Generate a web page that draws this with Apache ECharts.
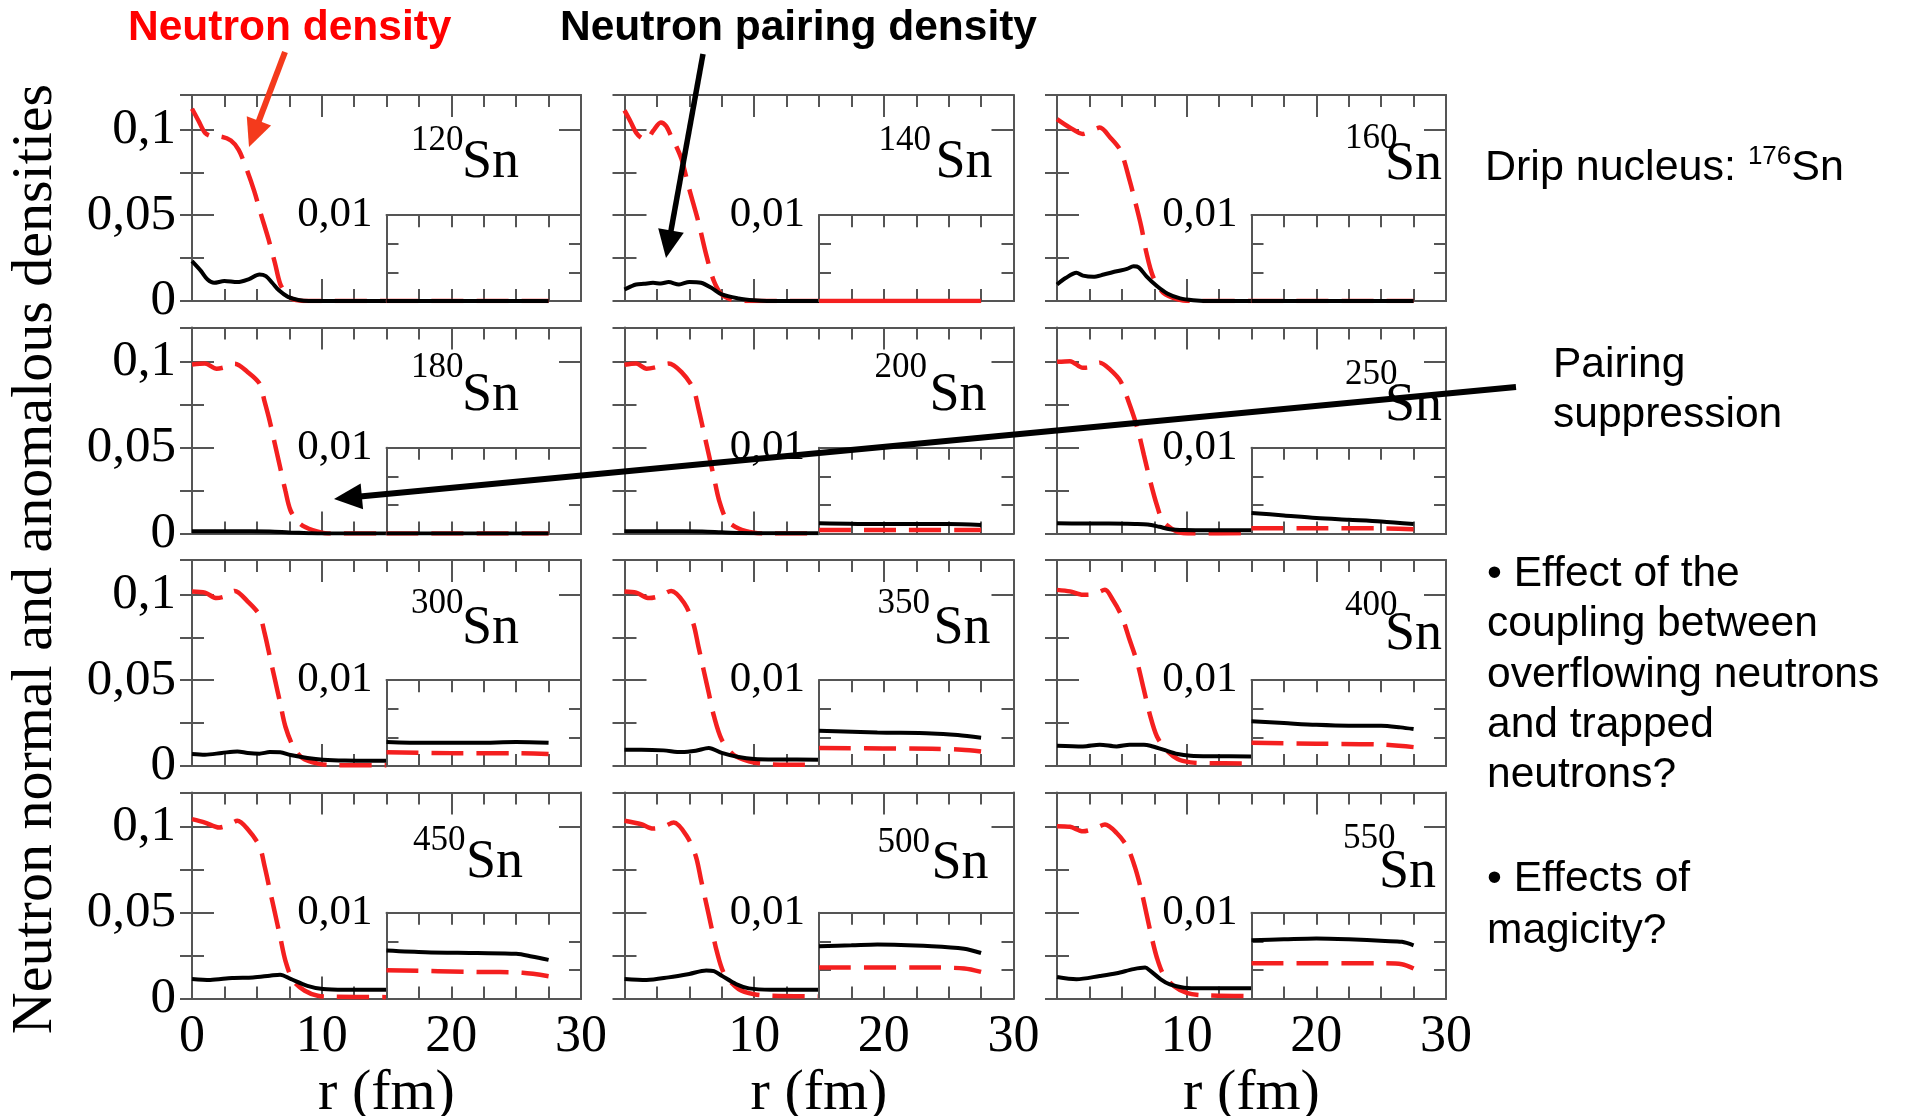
<!DOCTYPE html>
<html><head><meta charset="utf-8">
<script src="https://cdn.jsdelivr.net/npm/echarts@6/dist/echarts.min.js"></script>
<style>html,body{margin:0;padding:0;background:#fff}#c{width:1905px;height:1116px}</style>
</head><body><div id="c"></div>
<script>
// ================= DATA =================
const nuclei = ['120','140','160','180','200','250','300','350','400','450','500','550'];
const xTickValues = [0, 10, 20, 30];
const yTickValues = [0, 0.05, 0.1];
const insetTickLabel = 0.01;

// rho = neutron density (red dashed), kap = neutron pairing density (black)
// main panel: r in [0,15]; inset ("in"): r in [15,27.5], scale 0..0.01
const rho120 = [[0,0.112],[0.5,0.105],[1,0.098],[1.5,0.096],[2.2,0.0958],[3,0.0935],[3.6,0.088],[4.2,0.077],[4.8,0.064],[5.3,0.051],[5.9,0.036],[6.4,0.022],[6.8,0.010],[7.3,0.004],[7.8,0.001],[9,0],[15,0]];
const kap120 = [[0,0.0232],[0.7,0.0174],[1.2,0.0125],[1.7,0.0106],[2.5,0.0116],[3.5,0.011],[4.4,0.0128],[5.2,0.0155],[5.7,0.0145],[6.2,0.0105],[6.7,0.0062],[7.4,0.0024],[8.2,0.0006],[9,0],[15,0]];
const rho120in = [[15,0],[27.5,0]];
const kap120in = [[15,0],[27.5,0]];

const rho140 = [[0,0.111],[0.5,0.104],[0.9,0.098],[1.3,0.095],[1.7,0.094],[2.2,0.099],[2.8,0.104],[3.2,0.102],[3.6,0.096],[4.0,0.090],[4.4,0.0826],[5.0,0.065],[5.7,0.046],[6.3,0.027],[6.9,0.0115],[7.5,0.0038],[8.2,0.001],[9,0],[15,0]];
const kap140 = [[0,0.0067],[0.5,0.0085],[0.9,0.0096],[1.5,0.0100],[2.2,0.0106],[2.8,0.0102],[3.4,0.011],[4.2,0.0096],[5.0,0.0111],[5.9,0.0106],[6.7,0.0077],[7.5,0.0038],[8.8,0.0015],[10,0.0004],[11,0],[15,0]];
const rho140in = [[15,0],[27.5,0]];
const kap140in = [[15,0],[27.5,0]];

const rho160 = [[0,0.106],[1.0,0.101],[2.0,0.0973],[2.6,0.099],[3.3,0.101],[4.1,0.0953],[4.9,0.0876],[5.6,0.0703],[6.0,0.0587],[6.5,0.0433],[6.9,0.0279],[7.4,0.0144],[8.2,0.0048],[9.3,0.001],[10.3,0],[15,0]];
const kap160 = [[0,0.0096],[0.7,0.0135],[1.5,0.0164],[2.0,0.0148],[2.8,0.0141],[3.6,0.0154],[4.6,0.0173],[5.4,0.0187],[5.9,0.0202],[6.3,0.0196],[6.9,0.0144],[7.7,0.0087],[8.5,0.0044],[9.5,0.0015],[10.5,0.0005],[12,0],[15,0]];
const rho160in = [[15,0],[27.5,0]];
const kap160in = [[15,0],[27.5,0]];

const rho180 = [[0,0.0985],[1.0,0.099],[1.9,0.096],[2.6,0.097],[3.3,0.0989],[4.3,0.094],[5.2,0.0874],[5.6,0.0768],[6.0,0.0653],[6.4,0.0518],[6.8,0.0384],[7.2,0.025],[7.6,0.0134],[8.3,0.0058],[9.3,0.0019],[10.5,0],[15,0]];
const kap180 = [[0,0.0013],[3,0.0013],[6,0.0012],[7.5,0.0006],[9,0.0002],[10,0],[15,0]];
const rho180in = [[15,0],[27.5,0]];
const kap180in = [[15,0],[27.5,0]];

const rho200 = [[0,0.0983],[0.9,0.099],[1.7,0.096],[2.5,0.097],[3.4,0.099],[4.4,0.094],[5.3,0.0845],[5.7,0.073],[6.1,0.0595],[6.5,0.046],[6.9,0.0326],[7.3,0.0192],[7.9,0.0077],[8.8,0.0029],[10,0.0004],[11,0],[15,0.0001]];
const kap200 = [[0,0.0013],[3,0.0013],[6,0.0012],[7.5,0.0007],[9,0.0003],[11,0.0002],[15,0.0002]];
const rho200in = [[15,0.0004],[20,0.0004],[27.5,0.0004]];
const kap200in = [[15,0.0012],[20,0.0011],[25,0.0011],[27.5,0.0010]];

const rho250 = [[0,0.100],[1.0,0.1004],[2.0,0.0965],[2.6,0.097],[3.3,0.0995],[4.1,0.0955],[4.9,0.0887],[5.6,0.0751],[6.2,0.0614],[6.7,0.0458],[7.2,0.0302],[7.7,0.0166],[8.2,0.0068],[9.3,0.001],[10.5,0],[15,0.0001]];
const kap250 = [[0,0.0059],[2,0.0058],[4,0.0058],[6,0.0056],[7,0.0053],[7.9,0.0039],[8.7,0.0025],[9.8,0.002],[12,0.0019],[15,0.0019]];
const rho250in = [[15,0.0006],[20,0.0006],[25,0.0006],[27.5,0.0005]];
const kap250in = [[15,0.0024],[17.5,0.0021],[20,0.0018],[22.5,0.0016],[25,0.0014],[27.5,0.0011]];

const rho300 = [[0,0.1017],[1.0,0.101],[1.9,0.0978],[2.6,0.099],[3.3,0.102],[4.3,0.0958],[5.2,0.088],[5.6,0.0774],[6.0,0.0638],[6.4,0.0502],[6.8,0.0367],[7.2,0.023],[7.8,0.0114],[8.5,0.0047],[9.7,0.0014],[11,0.0005],[15,0.0004]];
const kap300 = [[0,0.0070],[1,0.0066],[2.3,0.0076],[3.5,0.0085],[4.3,0.0076],[5.2,0.0072],[6.0,0.0081],[6.8,0.0080],[7.6,0.0064],[8.9,0.0047],[10.1,0.0037],[11.8,0.0032],[15,0.0030]];
const rho300in = [[15,0.0016],[20,0.0015],[25,0.0015],[27.5,0.0014]];
const kap300in = [[15,0.0028],[18,0.0027],[22,0.0027],[25,0.0028],[27.5,0.0027]];

const rho350 = [[0,0.1017],[0.9,0.101],[1.9,0.0978],[2.7,0.099],[3.6,0.102],[4.6,0.095],[5.3,0.0832],[5.7,0.0696],[6.1,0.056],[6.5,0.0425],[6.9,0.029],[7.5,0.0153],[8.4,0.0066],[9.6,0.0027],[10.8,0.0012],[12,0.0008],[15,0.0007]];
const kap350 = [[0,0.0095],[1.3,0.0095],[3.0,0.0091],[4.4,0.0081],[5.5,0.0089],[6.5,0.0105],[7.5,0.0076],[8.8,0.0052],[10,0.0041],[12,0.0038],[15,0.0037]];
const rho350in = [[15,0.0021],[23.7,0.0020],[26,0.0019],[27.5,0.0017]];
const kap350in = [[15,0.0041],[19.5,0.0039],[23.7,0.0038],[25.7,0.0036],[27.5,0.0033]];

const rho400 = [[0,0.1026],[1.0,0.1017],[2.0,0.0997],[2.8,0.100],[3.7,0.1026],[4.3,0.0968],[5.0,0.0871],[5.6,0.0735],[6.2,0.06],[6.7,0.0444],[7.2,0.0289],[7.7,0.0173],[8.4,0.0095],[9.3,0.0041],[10.3,0.0021],[11.3,0.0017],[15,0.0015]];
const kap400 = [[0,0.0118],[2,0.0114],[3.3,0.0124],[4.6,0.0114],[5.6,0.0124],[6.7,0.0124],[7.2,0.0118],[8.2,0.0095],[9.3,0.007],[10.3,0.006],[12,0.0057],[15,0.0056]];
const rho400in = [[15,0.0027],[20,0.0026],[25,0.0025],[27.5,0.0022]];
const kap400in = [[15,0.0052],[17.5,0.0050],[20,0.0048],[22.5,0.0047],[25,0.0047],[26.5,0.0045],[27.5,0.0043]];

const rho450 = [[0,0.1045],[1.0,0.1025],[2.1,0.0996],[2.8,0.101],[3.5,0.1035],[4.3,0.0986],[5.2,0.0888],[5.6,0.077],[6.0,0.0633],[6.4,0.0496],[6.8,0.0359],[7.2,0.0221],[7.8,0.0104],[8.7,0.0045],[9.7,0.0016],[10.9,0.001],[15,0.0008]];
const kap450 = [[0,0.0114],[1.4,0.0108],[3.1,0.012],[4.7,0.0123],[6.0,0.0133],[6.8,0.0139],[7.6,0.0114],[8.9,0.0074],[10.1,0.0055],[11.8,0.0051],[15,0.0051]];
const rho450in = [[15,0.0033],[22,0.0031],[25.5,0.0030],[27.5,0.0026]];
const kap450in = [[15,0.0056],[18,0.0054],[22,0.0053],[25,0.0052],[26.2,0.0049],[27.5,0.0045]];

const rho500 = [[0,0.1035],[1.3,0.1015],[2.2,0.099],[3.0,0.100],[3.8,0.1025],[4.8,0.0947],[5.5,0.0829],[5.9,0.0692],[6.3,0.0555],[6.7,0.0417],[7.1,0.028],[7.7,0.0143],[8.8,0.0055],[10,0.0025],[11.3,0.0016],[15,0.0012]];
const kap500 = [[0,0.0114],[1.7,0.0108],[3.4,0.0123],[5.0,0.0143],[6.3,0.0163],[6.9,0.0159],[7.5,0.0133],[8.6,0.0084],[9.6,0.0059],[11.3,0.0051],[15,0.0051]];
const rho500in = [[15,0.0036],[23.7,0.0036],[26.2,0.0035],[27.5,0.0031]];
const kap500in = [[15,0.0061],[17.5,0.0062],[19.5,0.0063],[23.7,0.0061],[26.2,0.0058],[27.5,0.0053]];

const rho550 = [[0,0.1004],[1.0,0.100],[2.0,0.0974],[2.9,0.099],[3.7,0.1013],[4.6,0.0964],[5.4,0.0886],[6.0,0.0768],[6.5,0.0631],[6.9,0.0494],[7.3,0.0357],[7.7,0.0239],[8.2,0.0141],[9.0,0.0073],[10.0,0.0033],[11.1,0.002],[15,0.0014]];
const kap550 = [[0,0.0125],[1.5,0.0112],[3.3,0.0131],[4.6,0.0147],[5.9,0.0171],[6.8,0.018],[7.2,0.0161],[8.0,0.0112],[8.7,0.0082],[9.8,0.0063],[11.1,0.0059],[15,0.0059]];
const rho550in = [[15,0.0041],[20,0.0041],[25,0.0041],[26.6,0.0040],[27.5,0.0035]];
const kap550in = [[15,0.0068],[17.5,0.0069],[20,0.0070],[22.5,0.0069],[25.3,0.0067],[26.6,0.0066],[27.5,0.0062]];

// ================= LAYOUT =================
const COL_LEFT = [192, 624.5, 1057];
const ROW_TOP = [95, 327.5, 560, 792.5];
const PW = 389, PH = 206;
const YMAX = 0.12, INSET_FRAC = 0.05 / 0.12;
// [supLeft, supCenterY, SnLeft, SnCenterY] relative to panel frame
const LABEL_POS = [
  [219,46,270,68],[254,46,311,68],[288,44,328,70],
  [219,40,270,68],[250,40,305,68],[288,47,328,78],
  [219,44,270,69],[253,44,309,69],[288,46,328,75],
  [221,48,274,70],[253,50,307,71],[286,46,322,80]
];
const RED_ON_TOP_IN_INSET = ['140'];
const SERIF = "'Liberation Serif','Times New Roman',serif";
const SANS = "'Liberation Sans',Arial,sans-serif";
const FRAME = '#555';
const RED = '#f41f1f';
const DASH = [32, 13];

const RHO = [rho120,rho140,rho160,rho180,rho200,rho250,rho300,rho350,rho400,rho450,rho500,rho550];
const KAP = [kap120,kap140,kap160,kap180,kap200,kap250,kap300,kap350,kap400,kap450,kap500,kap550];
const RHOIN = [rho120in,rho140in,rho160in,rho180in,rho200in,rho250in,rho300in,rho350in,rho400in,rho450in,rho500in,rho550in];
const KAPIN = [kap120in,kap140in,kap160in,kap180in,kap200in,kap250in,kap300in,kap350in,kap400in,kap450in,kap500in,kap550in];

const fmtNum = v => (v === 0 ? '0' : String(+v.toFixed(4)).replace('.', ','));

const grid = [], xAxis = [], yAxis = [], series = [], graphic = [];
const tickStyle = {color: FRAME, width: 2};
const lineStyleAxis = {color: FRAME, width: 2};

nuclei.forEach((nuc, i) => {
  const row = Math.floor(i / 3), col = i % 3;
  const L = COL_LEFT[col], T = ROW_TOP[row];
  const insetH = PH * INSET_FRAC;
  grid.push({left: L, top: T, width: PW, height: PH, containLabel: false, outerBoundsMode: 'none'});
  grid.push({left: L + PW / 2, top: T + PH - insetH, width: PW / 2, height: insetH, containLabel: false,
    outerBoundsMode: 'none', show: true, backgroundColor: '#fff', borderWidth: 0, z: 3});
  const gM = 2 * i, gI = 2 * i + 1;
  const showX = row === 3;
  ['bottom', 'top'].forEach(pos => {
    xAxis.push({
      gridIndex: gM, type: 'value', position: pos, min: 0, max: 30, interval: 10,
      axisLine: {show: true, onZero: false, lineStyle: lineStyleAxis},
      axisTick: {show: true, inside: true, length: 22, lineStyle: tickStyle},
      minorTick: {show: true, splitNumber: 4, length: 12, lineStyle: tickStyle},
      splitLine: {show: false}, minorSplitLine: {show: false},
      axisLabel: (pos === 'bottom' && showX) ? {
        show: true, margin: 13, color: '#000', fontFamily: SERIF, fontSize: 52,
        formatter: v => (xTickValues.indexOf(v) >= 0 && !(col > 0 && v === 0)) ? String(v) : ''
      } : {show: false},
      name: (pos === 'bottom' && showX) ? 'r (fm)' : '',
      nameLocation: 'middle', nameGap: 63,
      nameTextStyle: {color: '#000', fontFamily: SERIF, fontSize: 58}
    });
  });
  ['bottom', 'top'].forEach(pos => {
    xAxis.push({
      gridIndex: gI, type: 'value', position: pos, min: 15, max: 30, interval: 2.5, z: 4,
      axisLine: {show: true, onZero: false, lineStyle: lineStyleAxis},
      axisTick: {show: true, inside: true, length: 12, lineStyle: tickStyle},
      splitLine: {show: false}, axisLabel: {show: false}
    });
  });
  ['left', 'right'].forEach(pos => {
    yAxis.push({
      gridIndex: gM, type: 'value', position: pos, min: 0, max: YMAX, interval: 0.05,
      axisLine: {show: true, onZero: false, lineStyle: lineStyleAxis},
      axisTick: {show: true, inside: true, length: 22, lineStyle: tickStyle},
      splitLine: {show: false},
      axisLabel: (pos === 'left' && col === 0) ? {
        show: true, margin: 16, color: '#000', fontFamily: SERIF, fontSize: 51,
        formatter: v => yTickValues.some(t => Math.abs(t - v) < 1e-9) ? fmtNum(v) : ''
      } : {show: false}
    });
    yAxis.push({
      gridIndex: gM, type: 'value', position: pos, min: 0, max: YMAX, interval: 0.025,
      axisLine: {show: false},
      axisTick: {show: true, inside: true, length: 12, lineStyle: tickStyle},
      splitLine: {show: false}, axisLabel: {show: false}
    });
  });
  ['left', 'right'].forEach(pos => {
    yAxis.push({
      gridIndex: gI, type: 'value', position: pos, min: 0, max: insetTickLabel, interval: insetTickLabel / 3, z: 4,
      axisLine: {show: true, onZero: false, lineStyle: lineStyleAxis},
      axisTick: {show: true, inside: true, length: 12, lineStyle: tickStyle},
      splitLine: {show: false},
      axisLabel: pos === 'left' ? {
        show: true, margin: 14, color: '#000', fontFamily: SERIF, fontSize: 43,
        formatter: v => Math.abs(v - insetTickLabel) < 1e-7 ? fmtNum(insetTickLabel) : ''
      } : {show: false}
    });
  });
  const xb = 4 * i, yb = 6 * i;
  const redTop = RED_ON_TOP_IN_INSET.indexOf(nuc) >= 0;
  const common = {type: 'line', symbol: 'none', showSymbol: false, smooth: 0.3, silent: true, emphasis: {disabled: true}, clip: true};
  series.push(Object.assign({}, common, {name: 'rho' + nuc, xAxisIndex: xb, yAxisIndex: yb, data: RHO[i], z: 2,
    lineStyle: {color: RED, width: 4.5, type: DASH}}));
  series.push(Object.assign({}, common, {name: 'kap' + nuc, xAxisIndex: xb, yAxisIndex: yb, data: KAP[i], z: 2,
    lineStyle: {color: '#000', width: 4}}));
  series.push(Object.assign({}, common, {name: 'kapIn' + nuc, xAxisIndex: xb + 2, yAxisIndex: yb + 4, data: KAPIN[i], z: 5,
    lineStyle: {color: '#000', width: 4}}));
  series.push(Object.assign({}, common, {name: 'rhoIn' + nuc, xAxisIndex: xb + 2, yAxisIndex: yb + 4, data: RHOIN[i], z: redTop ? 6 : 4.5,
    lineStyle: {color: RED, width: 4.5, type: redTop ? 'solid' : DASH}}));
  const lp = LABEL_POS[i];
  graphic.push({type: 'text', x: L + lp[0], y: T + lp[1], z: 20,
    style: {text: nuc, fontFamily: SERIF, fontSize: 35, fill: '#000', align: 'left', verticalAlign: 'middle'}});
  graphic.push({type: 'text', x: L + lp[2], y: T + lp[3], z: 20,
    style: {text: 'Sn', fontFamily: SERIF, fontSize: 54, fill: '#000', align: 'left', verticalAlign: 'middle'}});
});

function arrow(x1, y1, x2, y2, color, w, hl, hw) {
  const dx = x2 - x1, dy = y2 - y1, Ln = Math.hypot(dx, dy), ux = dx / Ln, uy = dy / Ln;
  const bx = x2 - ux * hl, by = y2 - uy * hl, px = -uy, py = ux;
  graphic.push({type: 'line', z: 50, shape: {x1, y1, x2: bx + ux * 2, y2: by + uy * 2}, style: {stroke: color, lineWidth: w}});
  graphic.push({type: 'polygon', z: 50, shape: {points: [[x2, y2], [bx + px * hw / 2, by + py * hw / 2], [bx - px * hw / 2, by - py * hw / 2]]}, style: {fill: color}});
}
arrow(285, 52, 249, 147, '#f43a1c', 6, 28, 26);
arrow(703, 54, 666, 258, '#000', 5.5, 28, 26);
arrow(1516, 387, 334, 499, '#000', 6, 28, 26);

graphic.push({type: 'text', x: 128, y: 28, z: 60, style: {text: 'Neutron density', fontFamily: SANS, fontWeight: 'bold', fontSize: 42.5, fill: '#ff0000', align: 'left', verticalAlign: 'middle'}});
graphic.push({type: 'text', x: 560, y: 28, z: 60, style: {text: 'Neutron pairing density', fontFamily: SANS, fontWeight: 'bold', fontSize: 42.5, fill: '#000', align: 'left', verticalAlign: 'middle'}});
graphic.push({type: 'text', x: 1485, y: 168, z: 60, style: {
  text: '{a|Drip nucleus: }{b|176}{a|Sn}', align: 'left', verticalAlign: 'middle',
  rich: {a: {fontFamily: SANS, fontSize: 43, lineHeight: 48, fill: '#000'},
         b: {fontFamily: SANS, fontSize: 26, lineHeight: 38, verticalAlign: 'top', fill: '#000'}}}});
graphic.push({type: 'text', x: 1553, y: 390, z: 60, style: {text: 'Pairing\nsuppression', fontFamily: SANS, fontSize: 42.5, lineHeight: 50, fill: '#000', align: 'left', verticalAlign: 'middle'}});
graphic.push({type: 'text', x: 1487, y: 675, z: 60, style: {text: '\u2022 Effect of the\ncoupling between\noverflowing neutrons\nand trapped\nneutrons?', fontFamily: SANS, fontSize: 42.5, lineHeight: 50.3, fill: '#000', align: 'left', verticalAlign: 'middle'}});
graphic.push({type: 'text', x: 1487, y: 905, z: 60, style: {text: '\u2022 Effects of\nmagicity?', fontFamily: SANS, fontSize: 42.5, lineHeight: 52, fill: '#000', align: 'left', verticalAlign: 'middle'}});
graphic.push({type: 'text', x: 36, y: 559, rotation: Math.PI / 2, z: 60, style: {text: 'Neutron normal and anomalous densities', fontFamily: SERIF, fontSize: 58, fill: '#000', align: 'center', verticalAlign: 'middle'}});

const chart = echarts.init(document.getElementById('c'), null, {renderer: 'canvas'});
chart.setOption({
  backgroundColor: '#fff', animation: false,
  grid, xAxis, yAxis, series, graphic
});
</script></body></html>
